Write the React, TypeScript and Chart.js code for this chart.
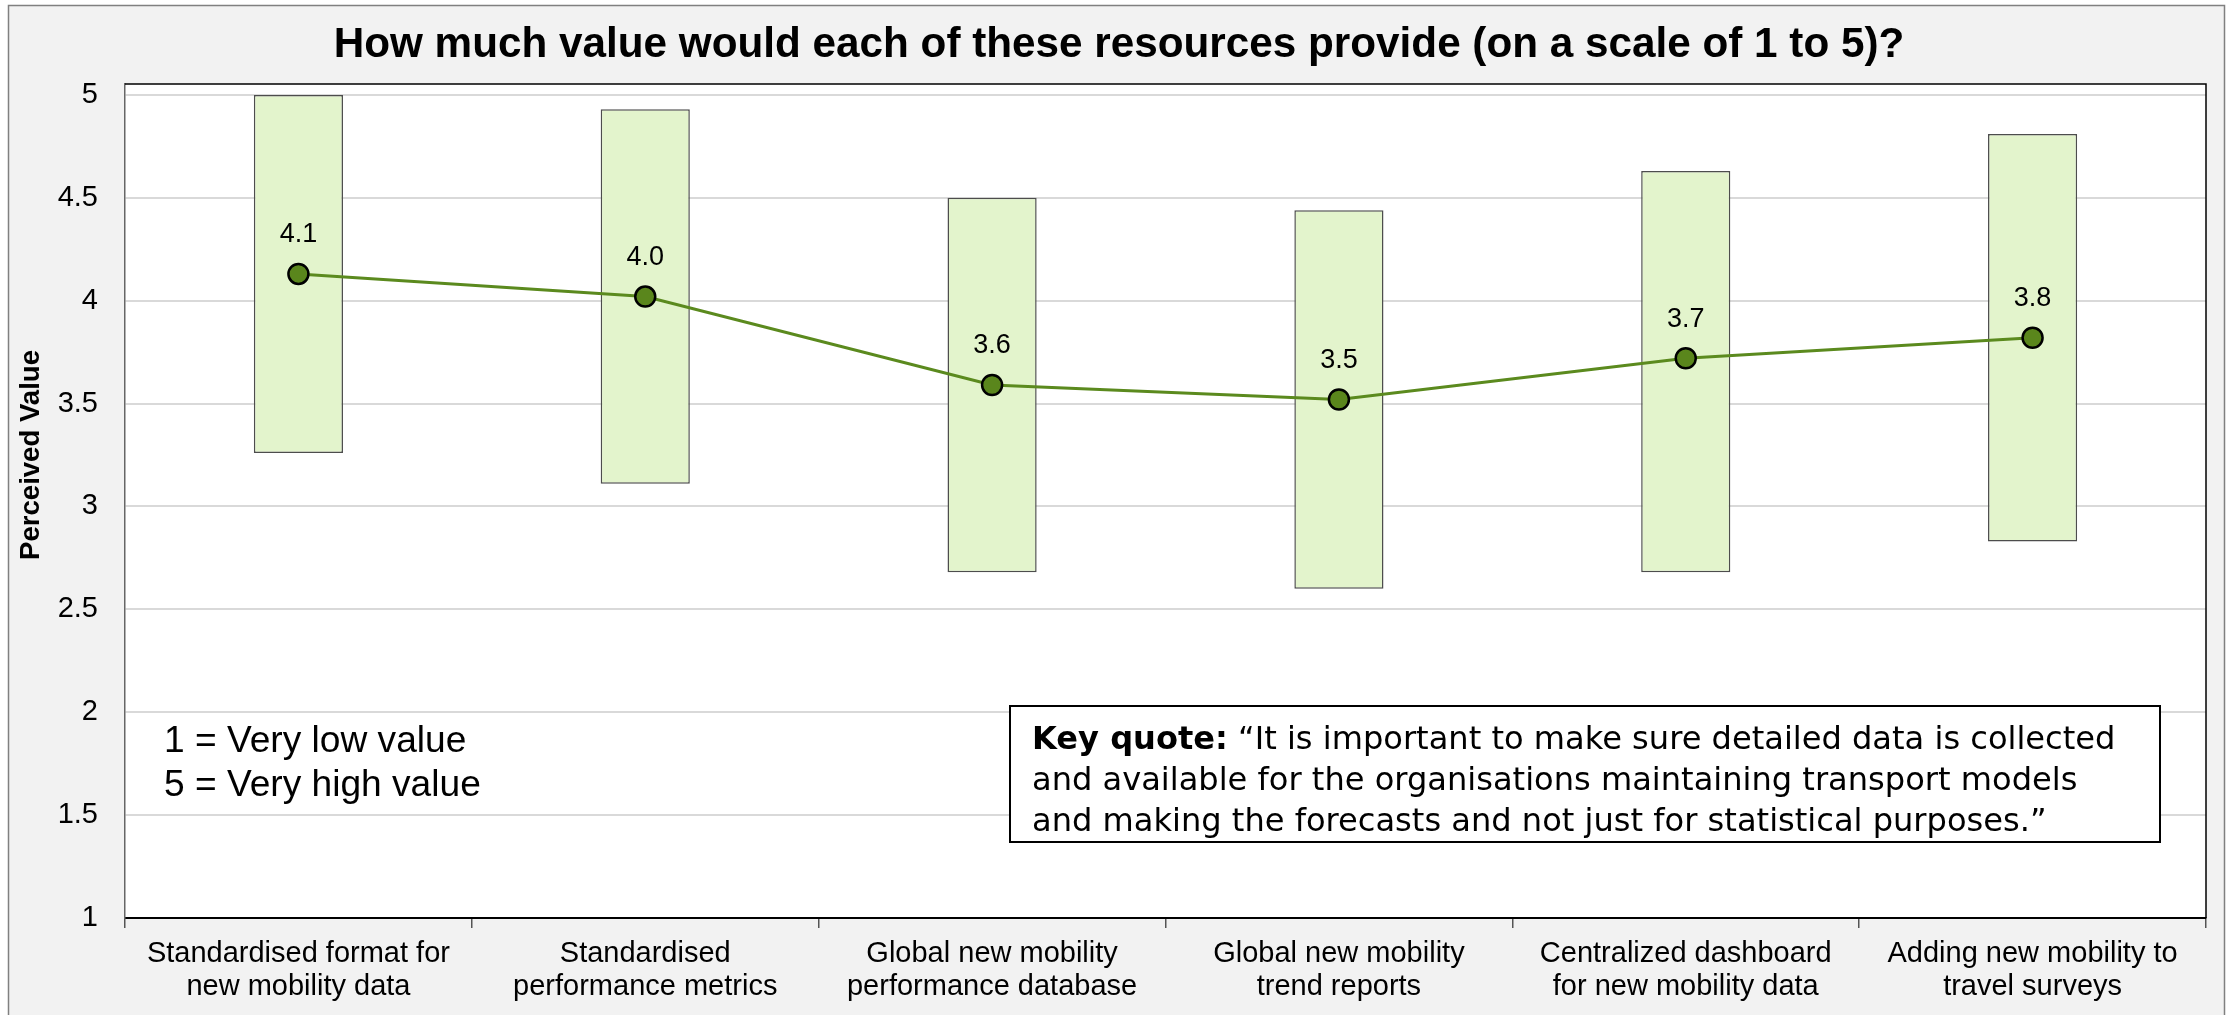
import React, { useEffect, useRef } from "react";
import { Chart, registerables } from "chart.js";

Chart.register(...registerables);

const TITLE = "How much value would each of these resources provide (on a scale of 1 to 5)?";
const Y_TITLE = "Perceived Value";
const CATEGORIES: string[][] = [
  ["Standardised format for", "new mobility data"],
  ["Standardised", "performance metrics"],
  ["Global new mobility", "performance database"],
  ["Global new mobility", "trend reports"],
  ["Centralized dashboard", "for new mobility data"],
  ["Adding new mobility to", "travel surveys"],
];
const RANGE_LOW = [3.26, 3.11, 2.68, 2.6, 2.68, 2.83];
const RANGE_HIGH = [5.0, 4.93, 4.5, 4.44, 4.63, 4.81];
const MEAN = [4.13, 4.02, 3.59, 3.52, 3.72, 3.82];
const Y_MIN = 1;
const Y_MAX = 5.053;
const Y_TICKS = [1, 1.5, 2, 2.5, 3, 3.5, 4, 4.5, 5];
const NOTE_LINES = ["1 = Very low value", "5 = Very high value"];
const QUOTE_BOLD = "Key quote:";
const QUOTE_LINES = [
  " \u201CIt is important to make sure detailed data is collected",
  "and available for the organisations maintaining transport models",
  "and making the forecasts and not just for statistical purposes.\u201D",
];

const SANS = "'Liberation Sans', Arial, sans-serif";
const VERD = "'DejaVu Sans', Verdana, sans-serif";

function fitFont(ctx: CanvasRenderingContext2D, text: string, weight: string, family: string, target: number) {
  ctx.font = `${weight} 100px ${family}`;
  const w = ctx.measureText(text).width;
  return (100 * target) / w;
}

const decor = {
  id: "decor",
  beforeDraw(chart: any) {
    const { ctx, chartArea: a, width, height } = chart;
    ctx.save();
    ctx.fillStyle = "#ffffff";
    ctx.fillRect(0, 0, width, height);
    ctx.fillStyle = "#f2f2f2";
    ctx.fillRect(8, 5, 2216, height);
    ctx.strokeStyle = "#808080";
    ctx.lineWidth = 1.5;
    ctx.beginPath();
    ctx.moveTo(8.5, height + 2);
    ctx.lineTo(8.5, 5.5);
    ctx.lineTo(2224.5, 5.5);
    ctx.lineTo(2224.5, height + 2);
    ctx.stroke();
    ctx.fillStyle = "#ffffff";
    ctx.fillRect(a.left, a.top, a.right - a.left, a.bottom - a.top);

    // title
    const ts = fitFont(ctx, TITLE, "bold", SANS, 1571);
    ctx.font = `bold ${ts}px ${SANS}`;
    ctx.fillStyle = "#000";
    ctx.textAlign = "center";
    ctx.textBaseline = "alphabetic";
    ctx.fillText(TITLE, 1119, 57);

    // y title
    const ys = fitFont(ctx, Y_TITLE, "bold", SANS, 210);
    ctx.translate(31, 455);
    ctx.rotate(-Math.PI / 2);
    ctx.font = `bold ${ys}px ${SANS}`;
    ctx.textBaseline = "middle";
    ctx.fillText(Y_TITLE, 0, 0);
    ctx.restore();
  },
  beforeDatasetsDraw(chart: any) {
    const { ctx, chartArea: a } = chart;
    ctx.save();
    ctx.strokeStyle = "#000";
    ctx.lineWidth = 1.5;
    ctx.beginPath();
    ctx.moveTo(a.left, a.top);
    ctx.lineTo(a.right, a.top);
    ctx.lineTo(a.right, a.bottom);
    ctx.stroke();
    ctx.restore();
  },
  afterDatasetsDraw(chart: any) {
    const { ctx } = chart;
    ctx.save();
    // value labels above points
    const meta = chart.getDatasetMeta(0);
    ctx.fillStyle = "#000";
    ctx.font = `27px ${SANS}`;
    ctx.textAlign = "center";
    ctx.textBaseline = "middle";
    meta.data.forEach((el: any, i: number) => {
      ctx.fillText(MEAN[i].toFixed(1), el.x, el.y - 39);
    });

    // scale notes
    const ns = fitFont(ctx, NOTE_LINES[1], "normal", SANS, 317);
    ctx.font = `${ns}px ${SANS}`;
    ctx.textAlign = "left";
    ctx.textBaseline = "alphabetic";
    ctx.fillText(NOTE_LINES[0], 164, 752);
    ctx.fillText(NOTE_LINES[1], 164, 796);

    // quote box
    ctx.fillStyle = "#fff";
    ctx.fillRect(1010, 706, 1150, 136);
    ctx.strokeStyle = "#000";
    ctx.lineWidth = 2;
    ctx.strokeRect(1010, 706, 1150, 136);
    ctx.font = `bold 100px ${VERD}`;
    const wb = ctx.measureText(QUOTE_BOLD).width;
    ctx.font = `100px ${VERD}`;
    const wr = ctx.measureText(QUOTE_LINES[0]).width;
    const qs = (100 * 1084) / (wb + wr);
    ctx.fillStyle = "#000";
    ctx.textBaseline = "middle";
    ctx.font = `bold ${qs}px ${VERD}`;
    ctx.fillText(QUOTE_BOLD, 1032, 741);
    const bw = ctx.measureText(QUOTE_BOLD).width;
    ctx.font = `${qs}px ${VERD}`;
    ctx.fillText(QUOTE_LINES[0], 1032 + bw, 741);
    ctx.fillText(QUOTE_LINES[1], 1032, 782);
    ctx.fillText(QUOTE_LINES[2], 1032, 823);
    ctx.restore();
  },
};

export default function App() {
  const ref = useRef<HTMLCanvasElement | null>(null);
  useEffect(() => {
    if (!ref.current) return;
    const chart = new Chart(ref.current, {
      type: "bar",
      data: {
        labels: CATEGORIES,
        datasets: [
          {
            type: "line",
            label: "Mean",
            data: MEAN,
            order: 0,
            borderColor: "#5b8a1e",
            borderWidth: 3,
            pointRadius: 10,
            pointBorderWidth: 2.5,
            pointBackgroundColor: "#5a861c",
            pointBorderColor: "#000",
            tension: 0,
          } as any,
          {
            type: "bar",
            label: "Range",
            data: RANGE_LOW.map((lo, i) => [lo, RANGE_HIGH[i]]),
            order: 1,
            backgroundColor: "#e3f4cc",
            borderColor: "#4d4d4d",
            borderWidth: 1.5,
            borderSkipped: false,
            categoryPercentage: 1,
            barPercentage: 0.257,
          } as any,
        ],
      },
      options: {
        animation: false,
        responsive: false,
        devicePixelRatio: 1,
        layout: { padding: { left: 25, top: 84, right: 28, bottom: 7 } },
        plugins: { legend: { display: false }, tooltip: { enabled: false }, title: { display: false } },
        scales: {
          x: {
            offset: true,
            afterFit: (s: any) => { s.height = 90; },
            grid: {
              offset: true,
              drawOnChartArea: false,
              drawTicks: true,
              tickLength: 10,
              color: "#555",
              lineWidth: 1.5,
            },
            border: { display: true, color: "#000", width: 2 },
            ticks: {
              color: "#000",
              font: { family: SANS, size: 29, lineHeight: 1.15 },
              padding: 9,
              maxRotation: 0,
              autoSkip: false,
            },
          },
          y: {
            min: Y_MIN,
            max: Y_MAX,
            afterFit: (s: any) => { s.width = 100; },
            afterBuildTicks: (s: any) => {
              s.ticks = Y_TICKS.map((v) => ({ value: v }));
            },
            grid: { color: "#d9d9d9", lineWidth: 2, drawTicks: false },
            border: { display: true, color: "#666", width: 1.5 },
            ticks: {
              color: "#000",
              padding: 27,
              font: { family: SANS, size: 29 },
              callback: (v: any) => String(Math.round(Number(v) * 10) / 10),
            },
          },
        },
      },
      plugins: [decor],
    });
    return () => chart.destroy();
  }, []);
  return (
    <div style={{ position: "fixed", left: 0, top: 0, width: 2234, height: 1015 }}>
      <canvas ref={ref} width={2234} height={1015} style={{ display: "block", width: 2234, height: 1015 }} />
    </div>
  );
}
